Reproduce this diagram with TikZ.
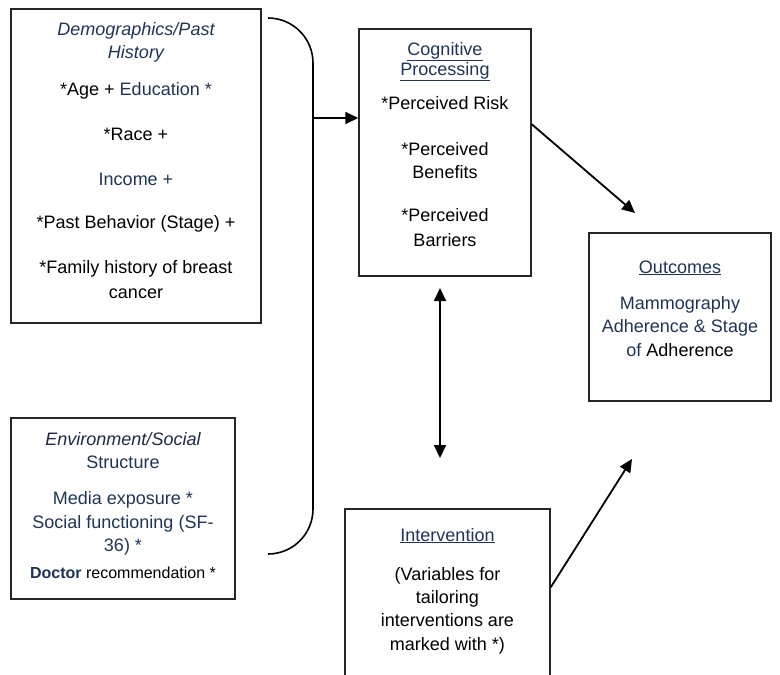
\documentclass[tikz,border=0pt]{standalone}
\usepackage{fontspec}
\setmainfont{Liberation Sans}
\usetikzlibrary{arrows.meta,calc}
\definecolor{navy}{RGB}{31,52,92}
\begin{document}
\begin{tikzpicture}[x=1pt,y=-1pt,
  box/.style={draw=black!85,line width=1.5pt,inner sep=0pt,fill=none},
  txt/.style={anchor=base,inner sep=0pt,font=\fontsize{18pt}{20pt}\selectfont,text=black},
  small/.style={txt,font=\fontsize{16pt}{18pt}\selectfont},
  conn/.style={line width=1.8pt,black},
  tip/.style={-{Triangle[length=13pt,width=12pt]}}]
\useasboundingbox (0,0) rectangle (780,675);
\clip (0,0) rectangle (780,675);
\fill[white] (0,0) rectangle (780,675);

% boxes
\node[box,minimum width=250pt,minimum height=314pt] (demo) at (136,166) {};
\node[box,minimum width=224pt,minimum height=181pt] (env) at (123,508.5) {};
\node[box,minimum width=172pt,minimum height=247pt] (cog) at (445,152.5) {};
\node[box,minimum width=182pt,minimum height=168pt] (out) at (680,317) {};
\node[box,minimum width=205pt,minimum height=190pt] (int) at (447.5,604) {};

% Demographics text
\node[txt,text=navy,font=\fontsize{18pt}{20pt}\selectfont\itshape] (d1) at (136,35) {Demographics/Past};
\node[txt,text=navy,font=\fontsize{18pt}{20pt}\selectfont\itshape] (d2) at (136,58) {History};
\node[txt] (d3) at (136,95) {*Age + \textcolor{navy}{Education *}};
\node[txt] (d4) at (136,140) {*Race +};
\node[txt,text=navy] (d5) at (136,185) {Income +};
\node[txt] (d6) at (136,228) {*Past Behavior (Stage) +};
\node[txt] (d7) at (136,273) {*Family history of breast};
\node[txt] (d8) at (136,298) {cancer};

% Environment text
\node[txt,text=navy!80!black,font=\fontsize{18pt}{20pt}\selectfont\itshape] (e1) at (123,445) {Environment/Social};
\node[txt,text=navy] (e2) at (123,468) {Structure};
\node[txt,text=navy] (e3) at (123,504) {Media exposure *};
\node[txt,text=navy] (e4) at (123,528) {Social functioning (SF-};
\node[txt,text=navy] (e5) at (123,551) {36) *};
\node[small] (e6) at (123,578) {\textcolor{navy}{\textbf{Doctor}} recommendation *};

% Cognitive text
\node[txt,text=navy] (c1) at (445,55) {\underline{Cognitive}};
\node[txt,text=navy] (c2) at (445,75) {\underline{Processing}};
\node[txt] (c3) at (445,109) {*Perceived Risk};
\node[txt] (c4) at (445,155) {*Perceived};
\node[txt] (c5) at (445,178) {Benefits};
\node[txt] (c6) at (445,221) {*Perceived};
\node[txt] (c7) at (445,246) {Barriers};

% Outcomes text
\node[txt,text=navy] (o1) at (680,273) {\underline{Outcomes}};
\node[txt,text=navy] (o2) at (680,309) {Mammography};
\node[txt,text=navy] (o3) at (680,332) {Adherence \& Stage};
\node[txt] (o4) at (680,356) {\textcolor{navy}{of} Adherence};

% Intervention text
\node[txt,text=navy] (i1) at (447.5,541) {\underline{Intervention}};
\node[txt] (i2) at (447.5,580) {(Variables for};
\node[txt] (i3) at (447.5,603) {tailoring};
\node[txt] (i4) at (447.5,626) {interventions are};
\node[txt] (i5) at (447.5,650) {marked with *)};

% bracket
\coordinate (bt) at (268,18);
\coordinate (bb) at (268,554);
\coordinate (bj) at (313,118);
\draw[conn,line width=1.6pt,rounded corners=45pt] (bt) -- (313,18) -- (313,554) -- (bb);
\draw[conn,tip] (bj) -- (cog.west |- bj);

% cognitive -> outcomes
\coordinate (a1e) at (635,213);
\draw[conn,tip] ($(cog.north east)+(0,96)$) -- (a1e);

% double arrow
\coordinate (da) at (440,288);
\coordinate (db) at (440,458);
\draw[conn,{Triangle[length=13pt,width=12pt]}-{Triangle[length=13pt,width=12pt]}] (da) -- (db);

% intervention -> outcomes
\coordinate (a2e) at (632,459);
\draw[conn,tip] ($(int.north east)+(0,79)$) -- (a2e);
\end{tikzpicture}
\end{document}
